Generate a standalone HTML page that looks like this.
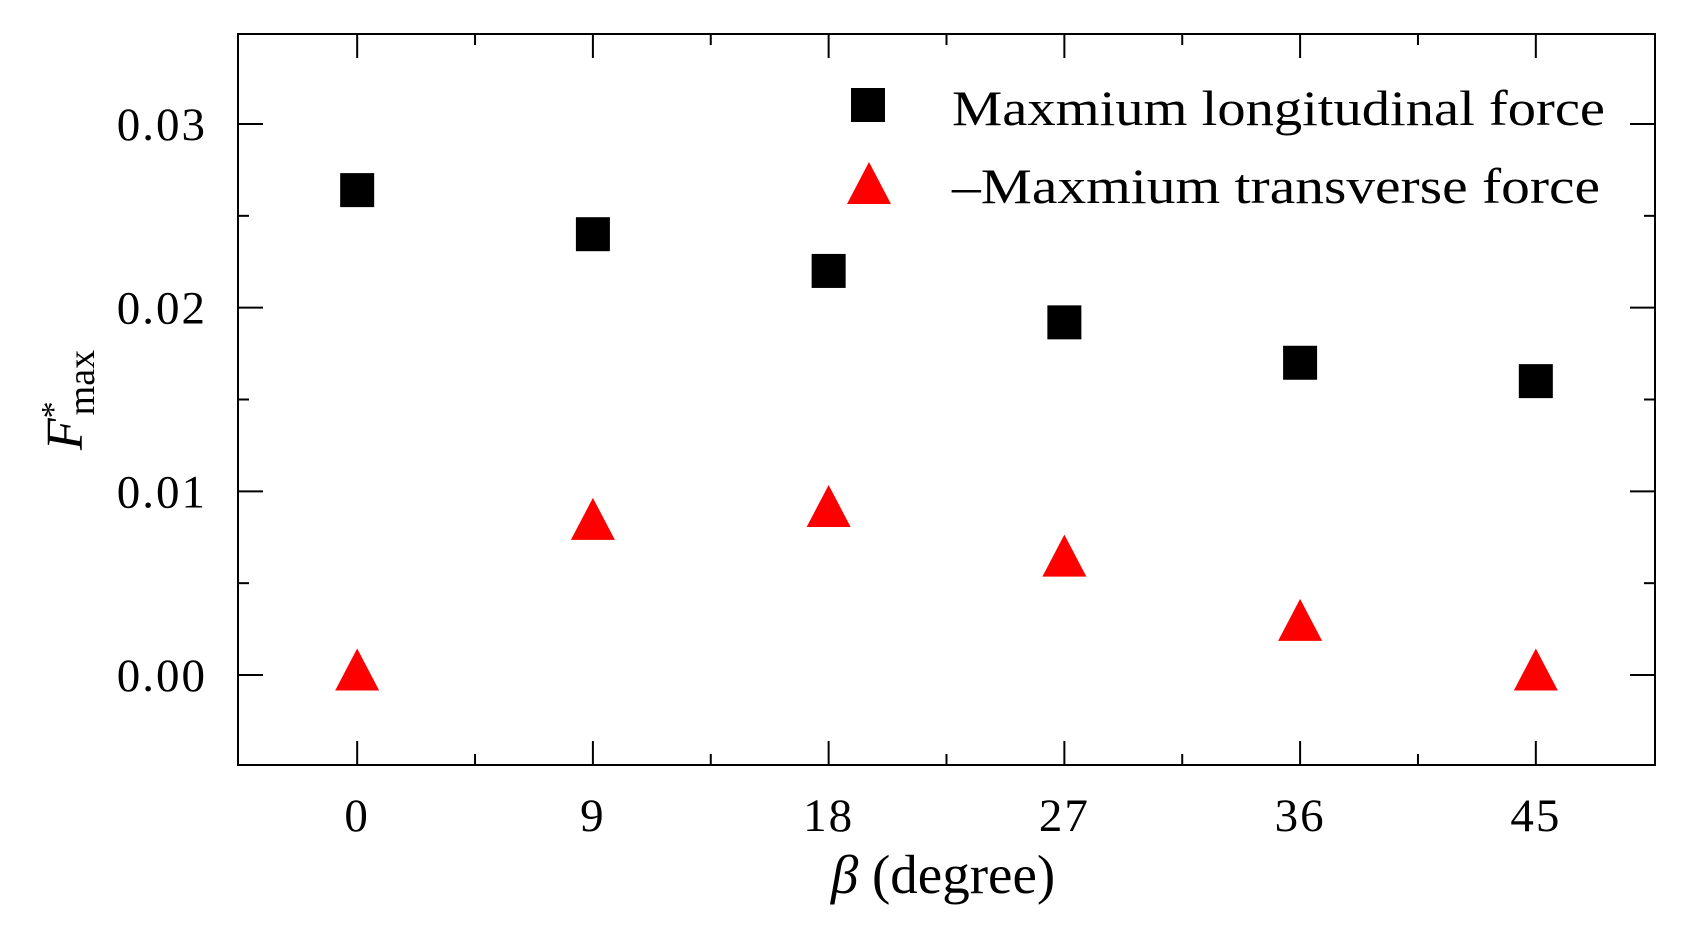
<!DOCTYPE html>
<html><head><meta charset="utf-8"><style>
html,body{margin:0;padding:0;background:#fff;}
svg text{font-family:"Liberation Serif","DejaVu Serif",serif;fill:#000;}
</style></head><body>
<svg id="chart" width="1681" height="931" viewBox="0 0 1681 931" xmlns="http://www.w3.org/2000/svg">
<g id="axes"></g>
<g id="marks"></g>
<g>
  <rect x="851" y="88" width="34" height="34" fill="#000"/>
  <text x="952" y="125" font-size="50" textLength="653" lengthAdjust="spacingAndGlyphs">Maxmium longitudinal force</text>
  <polygon points="869,162 847,204 891,204" fill="#ff0000"/>
  <text x="952" y="203" font-size="50" textLength="648" lengthAdjust="spacingAndGlyphs">–Maxmium transverse force</text>
</g>
<text x="943" y="893" font-size="55" text-anchor="middle"><tspan font-style="italic">β</tspan> (degree)</text>
<text transform="translate(82,400) rotate(-90)" font-size="52" text-anchor="middle"><tspan font-style="italic">F</tspan><tspan dy="-18" font-size="34">*</tspan><tspan dy="30" dx="-14" font-size="38">max</tspan></text>
</svg>
<script>
const categories = [0, 9, 18, 27, 36, 45];
const longitudinal = [0.0264, 0.0240, 0.0220, 0.0192, 0.0170, 0.0160];
const transverse = [0.0003, 0.0085, 0.0092, 0.0065, 0.0030, 0.0003];
const yTickLabels = ["0.00", "0.01", "0.02", "0.03"];
const yTickValues = [0, 0.01, 0.02, 0.03];
const xTickLabels = ["0", "9", "18", "27", "36", "45"];

const L = 238, R = 1655, T = 34, B = 765;
const xMin = -4.55, xMax = 49.55, yMin = -0.0049, yMax = 0.0349;
function xs(v){ return L + (v - xMin) / (xMax - xMin) * (R - L); }
function ys(v){ return B - (v - yMin) / (yMax - yMin) * (B - T); }
const NS = "http://www.w3.org/2000/svg";
function mk(tag, attrs, parent){ const e = document.createElementNS(NS, tag); for (const k in attrs) e.setAttribute(k, attrs[k]); parent.appendChild(e); return e; }
const axes = document.getElementById('axes');
const marks = document.getElementById('marks');

const frame = mk('rect', {x:L, y:T, width:R-L, height:B-T, fill:'none', stroke:'#000', 'stroke-width':2}, axes);



for (let v = 0; v <= 49; v += 4.5) {
  const major = Math.abs(v % 9) < 1e-9;
  const len = major ? 24 : 11;
  const x = xs(v);
  const t1 = mk('line', {x1:x, x2:x, y1:B, y2:B-len, stroke:'#000', 'stroke-width':2}, axes);
  
  
  const t2 = mk('line', {x1:x, x2:x, y1:T, y2:T+len, stroke:'#000', 'stroke-width':2}, axes);
  
  
}
categories.forEach((c, i) => {
  const t = mk('text', {x:xs(c), y:831, 'font-size':47, 'letter-spacing':2, 'text-anchor':'middle'}, axes);
  t.textContent = xTickLabels[i];
  
  
});
for (let k = -1; k <= 7; k++) {
  const v = k * 0.005;
  if (v < yMin || v > yMax) continue;
  const major = k % 2 === 0;
  const len = major ? 25 : 11;
  const y = ys(v);
  const t1 = mk('line', {x1:L, x2:L+len, y1:y, y2:y, stroke:'#000', 'stroke-width':2}, axes);
  
  
  const t2 = mk('line', {x1:R, x2:R-len, y1:y, y2:y, stroke:'#000', 'stroke-width':2}, axes);
  
  
}
yTickValues.forEach((v, i) => {
  const t = mk('text', {x:207, y:ys(v)+16, 'font-size':47, 'letter-spacing':2, 'text-anchor':'end'}, axes);
  t.textContent = yTickLabels[i];
  
  
});
categories.forEach((c, i) => {
  const x = xs(c), y = ys(longitudinal[i]);
  const s = mk('rect', {x:x-17, y:y-17, width:34, height:34, fill:'#000'}, marks);
  
  
});
categories.forEach((c, i) => {
  const x = xs(c), y = ys(transverse[i]);
  const p = mk('polygon', {points:`${x},${y-21} ${x-22},${y+21} ${x+22},${y+21}`, fill:'#ff0000'}, marks);
  
  
});
</script>
</body></html>
